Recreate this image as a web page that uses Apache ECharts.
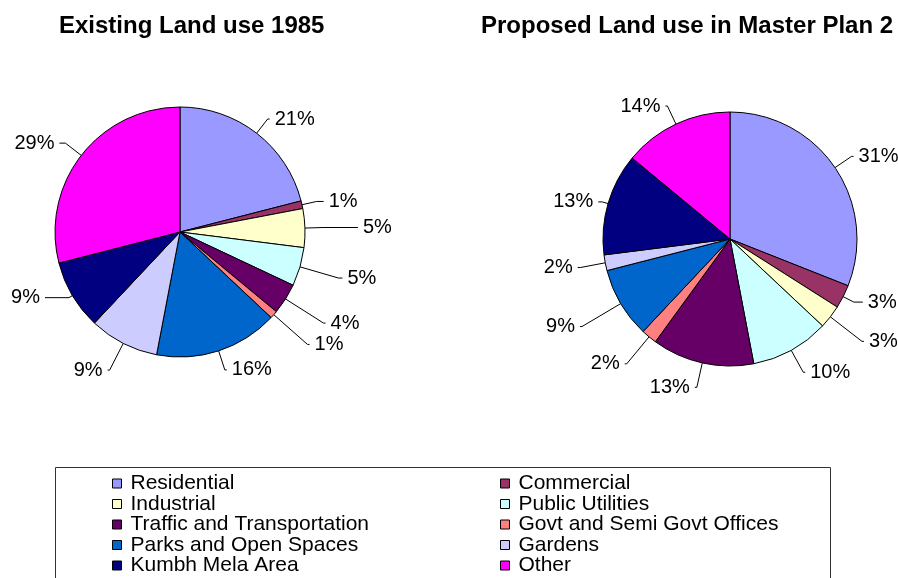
<!DOCTYPE html>
<html>
<head>
<meta charset="utf-8">
<script src="https://cdn.jsdelivr.net/npm/echarts@6/dist/echarts.min.js"></script>
<style>
  html, body { margin: 0; padding: 0; background: #fff; }
  #chart { width: 898px; height: 578px; }
</style>
</head>
<body>
<div id="chart"></div>
<script>
// Land-use categories, in slice order (clockwise from 12 o'clock)
const categories = [
  'Residential', 'Commercial', 'Industrial', 'Public Utilities',
  'Traffic and Transportation', 'Govt and Semi Govt Offices',
  'Parks and Open Spaces', 'Gardens', 'Kumbh Mela Area', 'Other'
];
// Share of land (%) for each category
const existing1985 = [21, 1, 5, 5, 4, 1, 16, 9, 9, 29];
const proposedPlan = [31, 3, 3, 10, 13, 2, 9, 2, 13, 14];
const chartTitles = ['Existing Land use 1985', 'Proposed Land use in Master Plan 2'];

// Legend is split into two columns
const legendLeft = ['Residential', 'Industrial', 'Traffic and Transportation', 'Parks and Open Spaces', 'Kumbh Mela Area'];
const legendRight = ['Commercial', 'Public Utilities', 'Govt and Semi Govt Offices', 'Gardens', 'Other'];

const palette = ['#9999FF', '#993366', '#FFFFCC', '#CCFFFF', '#660066',
                 '#FF8080', '#0066CC', '#CCCCFF', '#000080', '#FF00FF'];

// Leader-line styling per slice: [radial length, horizontal length]
const leadersExisting = [[18, 2], [15, 7], [18, 35], [40, 4], [45, 2], [45, 2], [20, 2], [30, 2], [4, 24], [20, 6]];
const leadersProposed = [[20, 2], [12, 9], [40, 2], [25, 2], [25, 2], [35, 2], [45, 2], [25, 3], [6, 4], [20, 2]];

const FONT = '"Liberation Sans", Arial, sans-serif';

function pieSeries(values, leaders, center, radius) {
  return {
    type: 'pie',
    center: center,
    radius: radius,
    startAngle: 90,
    clockwise: true,
    animation: false,
    avoidLabelOverlap: false,
    data: categories.map((name, i) => ({
      name: name,
      value: values[i],
      labelLine: { length: leaders[i][0], length2: leaders[i][1] }
    })),
    itemStyle: { borderColor: '#000', borderWidth: 1 },
    label: {
      show: true,
      position: 'outside',
      formatter: p => p.value + '%',
      color: '#000',
      fontFamily: FONT,
      fontSize: 20,
      overflow: 'none'
    },
    labelLine: {
      show: true,
      lineStyle: { color: '#000', width: 1 }
    },
    emphasis: { disabled: true }
  };
}

function legendBlock(names, left) {
  return {
    data: names,
    orient: 'vertical',
    left: left,
    top: 473,
    height: 200,
    padding: 0,
    itemWidth: 9,
    itemHeight: 9,
    itemGap: -0.5,
    icon: 'rect',
    itemStyle: { borderColor: '#000', borderWidth: 1 },
    textStyle: {
      color: '#000',
      fontFamily: FONT,
      fontSize: 21,
      padding: [0, 0, 0, 4]
    },
    selectedMode: false
  };
}

const chart = echarts.init(document.getElementById('chart'), null, { renderer: 'canvas' });
chart.setOption({
  backgroundColor: '#fff',
  color: palette,
  animation: false,
  title: [
    { text: chartTitles[0], left: 54, top: 9,
      textStyle: { fontFamily: FONT, fontSize: 24, fontWeight: 'bold', color: '#000' } },
    { text: chartTitles[1], left: 476, top: 9,
      textStyle: { fontFamily: FONT, fontSize: 24, fontWeight: 'bold', color: '#000' } }
  ],
  legend: [legendBlock(legendLeft, 112), legendBlock(legendRight, 500)],
  graphic: [{
    type: 'rect',
    shape: { x: 55.5, y: 467.5, width: 775, height: 140 },
    style: { fill: 'none', stroke: '#333', lineWidth: 1 },
    silent: true
  }],
  series: [
    pieSeries(existing1985, leadersExisting, [180, 232], 125),
    pieSeries(proposedPlan, leadersProposed, [730, 239], 127)
  ]
});
</script>
</body>
</html>
